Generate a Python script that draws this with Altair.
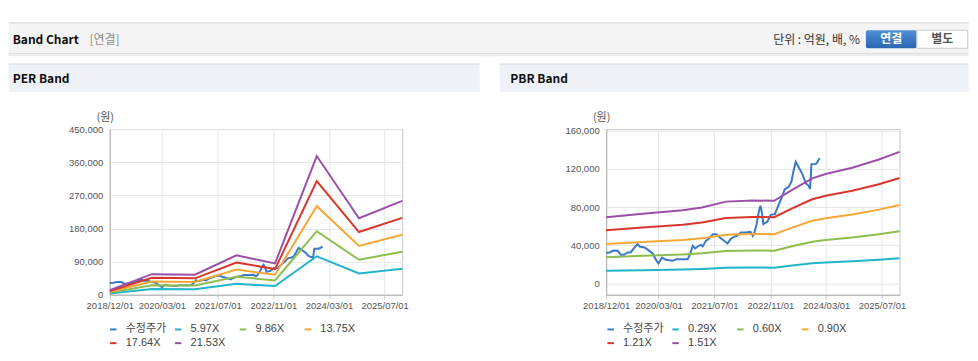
import altair as alt
import pandas as pd

FONT = "'Liberation Sans', 'Noto Sans CJK KR', sans-serif"
KFONT = "'Noto Sans CJK KR', 'Liberation Sans', sans-serif"

# ---------------- data ----------------
price_dates = ["2018-12-01", "2019-01-01", "2019-02-01", "2019-03-13", "2019-04-07", "2019-05-04",
               "2019-06-07", "2019-07-04", "2019-08-04", "2019-09-01", "2019-09-18", "2019-11-01",
               "2019-12-10", "2020-01-10", "2020-02-10", "2020-03-01", "2020-04-01", "2020-05-04",
               "2020-07-04", "2020-08-01", "2020-11-10", "2020-11-25", "2020-12-25", "2021-01-15",
               "2021-02-06", "2021-03-06", "2021-03-21", "2021-04-18", "2021-05-18", "2021-06-18",
               "2021-07-18", "2021-08-18", "2021-09-24", "2021-10-24", "2021-11-18", "2021-12-18",
               "2022-01-15", "2022-02-18", "2022-04-01", "2022-05-12", "2022-06-01", "2022-06-15",
               "2022-07-04", "2022-07-25", "2022-08-07", "2022-08-22", "2022-09-01", "2022-10-07",
               "2022-11-04", "2022-12-10", "2023-01-15", "2023-02-10", "2023-03-07", "2023-04-10",
               "2023-05-04", "2023-05-19", "2023-06-10", "2023-07-07", "2023-08-07", "2023-09-07",
               "2023-10-01", "2023-10-13", "2023-10-25", "2023-12-01", "2023-12-15", "2024-01-04"]
price_values = [31900, 32500, 34500, 34400, 30000, 30000,
                32500, 32800, 37700, 41300, 38800, 37700,
                34400, 31600, 24500, 21000, 27200, 24800,
                23800, 25500, 25500, 29000, 39500, 36700,
                38800, 40500, 38800, 44700, 47500, 51700,
                51700, 48300, 44700, 41900, 46400, 48900,
                50000, 53400, 53400, 54200, 50000, 53400,
                62200, 76200, 81400, 72700, 62200, 65000,
                72000, 72700, 83200, 90800, 98900, 101300,
                106600, 116300, 127500, 121500, 114600, 104800,
                102400, 99000, 125100, 125100, 127000, 131400]

per_dates = ["2018-12-01", "2019-12-04", "2020-12-15", "2021-12-13", "2022-11-15",
             "2023-11-15", "2024-11-18", "2025-12-01"]
per_names = ["5.97X", "9.86X", "13.75X", "17.64X", "21.53X"]
per_597 = [3500, 15500, 15100, 29700, 23600, 104500, 57700, 70700]
per_986 = [5800, 25600, 24900, 49000, 38900, 172600, 95200, 116700]
per_1375 = [8100, 35800, 34800, 68300, 54300, 240600, 132800, 162800]
per_1764 = [10400, 45900, 44600, 87700, 69700, 308700, 170400, 208900]
per_2153 = [12700, 56000, 54500, 107000, 85000, 376800, 208000, 254900]

pbr_dates = ["2018-12-01", "2019-10-15", "2020-09-28", "2021-03-15", "2021-10-10", "2022-05-28",
             "2022-12-04", "2023-05-10", "2023-11-01", "2024-02-25", "2024-10-15", "2025-06-04",
             "2025-12-01"]
pbr_names = ["0.29X", "0.60X", "0.90X", "1.21X", "1.51X"]
pbr_029 = [13300, 14000, 14700, 15300, 16500, 16700, 16600, 18900, 21200, 22000, 23300, 24900, 26500]
pbr_060 = [27600, 29000, 30500, 31700, 34100, 34600, 34400, 39000, 43800, 45600, 48200, 51600, 54800]
pbr_090 = [41400, 43600, 45700, 47500, 51100, 51800, 51700, 58500, 65700, 68400, 72300, 77400, 82200]
pbr_121 = [55700, 58600, 61500, 63900, 68700, 69700, 69500, 78700, 88300, 92000, 97200, 104100, 110500]
pbr_151 = [69500, 73100, 76700, 79700, 85800, 87000, 86700, 98200, 110200, 114800, 121300, 129900, 137900]

price_name = "수정주가"
series_colors = ["#3a78c8", "#22b5c9", "#8cbd4f", "#f5a836", "#d9352b", "#9b4fa8"]

x_ticks = [(2018, 12), (2020, 3), (2021, 7), (2022, 11), (2024, 3), (2025, 7)]
per_y_ticks = [0, 90000, 180000, 270000, 360000, 450000]
per_y_domain = [0, 450000]
pbr_y_ticks = [0, 40000, 80000, 120000, 160000]
pbr_y_domain = [-11800, 161800]


def dt(y, m, d=1):
    return alt.DateTime(year=y, month=m, date=d, utc=True)


def long_df(band_dates, names, lists):
    rows = [{"date": d, "value": v, "series": price_name} for d, v in zip(price_dates, price_values)]
    for name, vals in zip(names, lists):
        rows += [{"date": d, "value": v, "series": name} for d, v in zip(band_dates, vals)]
    return pd.DataFrame(rows)


dummy = pd.DataFrame({"k": [0]})


def box(x, x2, y, y2, fill, **kw):
    return alt.Chart(dummy).mark_rect(color=fill, **kw).encode(
        x=alt.value(x), x2=alt.value(x2), y=alt.value(y), y2=alt.value(y2))


def label(x, y, text, size=12, weight="normal", color="#222", align="left", font=KFONT):
    return alt.Chart(dummy).mark_text(text=text, fontSize=size, fontWeight=weight, color=color,
                                      align=align, baseline="middle", font=font).encode(
        x=alt.value(x), y=alt.value(y))


def lines(df, names, ydom, yvals, width, legend_x):
    return alt.Chart(df).mark_line(strokeWidth=2).encode(
        x=alt.X("date:T",
                scale=alt.Scale(type="utc", domain=[dt(2018, 12), dt(2025, 12)]),
                axis=alt.Axis(values=[dt(y, m) for y, m in x_ticks],
                              labelExpr="utcFormat(datum.value, '%Y/%m/%d')", title=None,
                              grid=True, gridColor="#e6e6e6", domainColor="#b0b0b0",
                              tickColor="#c8c8c8", tickSize=4, labelFontSize=9.5,
                              labelColor="#555", labelPadding=2, labelFont=FONT,
                              labelFlush=False, labelOverlap=False)),
        y=alt.Y("value:Q",
                scale=alt.Scale(domain=ydom, nice=False, zero=False),
                axis=alt.Axis(values=yvals, labelExpr="format(datum.value, ',.0f')",
                              title="(원)", titleAngle=0,
                              titleX=-5, titleY=-12, titleAlign="center", titleBaseline="middle",
                              titleFontSize=11, titleFontWeight="normal", titleColor="#555",
                              titleFont=KFONT, grid=True, gridColor="#e6e6e6",
                              domainColor="#b0b0b0", ticks=False, labelPadding=7,
                              labelFontSize=9.5, labelColor="#555", labelFont=FONT)),
        color=alt.Color("series:N",
                        scale=alt.Scale(domain=[price_name] + names, range=series_colors),
                        legend=alt.Legend(title=None, orient="none", legendX=legend_x, legendY=195,
                                          direction="horizontal",
                                          columns=4, symbolType="stroke", symbolStrokeWidth=2,
                                          symbolSize=42, labelFontSize=11, labelColor="#444",
                                          labelFont=FONT, labelOffset=7, columnPadding=4,
                                          rowPadding=2, gridAlign="all", padding=0)),
    ).properties(width=width, height=166)


btn_grad = alt.LinearGradient(gradient="linear", x1=0, x2=0, y1=0, y2=1,
                              stops=[alt.GradientStop(color="#4f8fd6", offset=0),
                                     alt.GradientStop(color="#2a68b2", offset=1)])

per_decor = [
    box(-101.3, 860.7, -107, -105.5, "#dcdcdc"),
    box(-101.3, 860.7, -105.5, -76, "#f4f4f4"),
    box(-101.3, 860.7, -76, -75, "#d4d4d4"),
    box(-101.3, 860.7, -75, -73, "#ececec"),
    label(-97.3, -89.7, "Band Chart", weight="bold", color="#111"),
    label(-20.3, -89.7, "[연결]", color="#8a8a8a"),
    label(751.7, -89.7, "단위 : 억원, 배, %", color="#333", align="right"),
    box(757.7, 808.7, -99, -81, btn_grad, cornerRadius=2),
    box(808.7, 859.7, -99, -81, "#ffffff", stroke="#cccccc", strokeWidth=1),
    label(783.2, -90, "연결", weight="bold", color="#ffffff", align="center"),
    label(834.2, -90, "별도", weight="bold", color="#555555", align="center"),
    box(-101.3, 370.7, -66, -64, "#e1e4e9"),
    box(-101.3, 370.7, -64, -37, "#eef1f6"),
    label(-97.3, -49.7, "PER Band", weight="bold", color="#111"),
]

pbr_decor = [
    box(-106.7, 363.3, -66, -64, "#e1e4e9"),
    box(-106.7, 363.3, -64, -37, "#eef1f6"),
    label(-96, -49.7, "PBR Band", weight="bold", color="#111"),
]

per_df = long_df(per_dates, per_names, [per_597, per_986, per_1375, per_1764, per_2153])
pbr_df = long_df(pbr_dates, pbr_names, [pbr_029, pbr_060, pbr_090, pbr_121, pbr_151])

per_chart = alt.layer(*per_decor, lines(per_df, per_names, per_y_domain, per_y_ticks, 293, -2))
pbr_chart = alt.layer(*pbr_decor, lines(pbr_df, pbr_names, pbr_y_domain, pbr_y_ticks, 294, -1))

chart = alt.hconcat(per_chart, pbr_chart, spacing=204.4, bounds="flush").resolve_scale(
    color="independent"
).configure_view(stroke="#c8c8c8", fill="white").properties(
    padding={"left": 0, "top": 13, "right": 0, "bottom": 0}
)

chart.save("out.html", embed_options={"renderer": "svg", "actions": False})
